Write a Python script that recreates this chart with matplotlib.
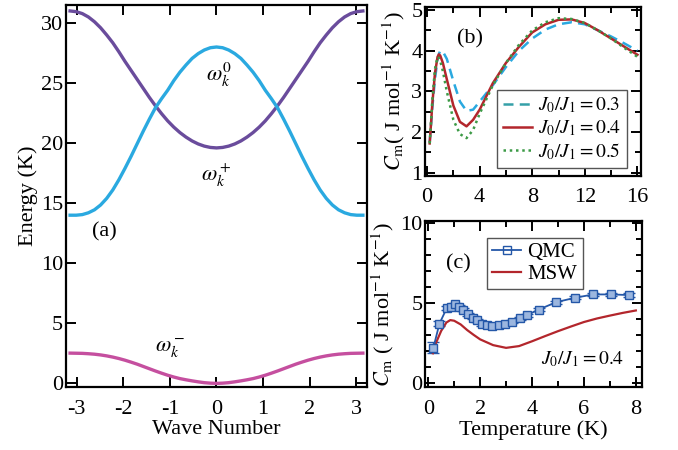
import numpy as np
import matplotlib.pyplot as plt
from matplotlib.ticker import MultipleLocator
from matplotlib.lines import Line2D

plt.rcParams['font.family'] = ['Liberation Serif', 'DejaVu Serif']
plt.rcParams['mathtext.fontset'] = 'stix'
plt.rcParams['axes.unicode_minus'] = False
plt.rcParams['font.size'] = 16

# ---- panel (a): dispersion, k = n*pi/24, n = 0..24 (symmetric about 0)
k_half = np.arange(25) * np.pi / 24
w0_half = [28.0, 27.94, 27.75, 27.45, 27.05, 26.5, 25.9, 25.2, 24.4, 23.7, 22.95, 22.0,
           21.0, 19.95, 18.9, 17.9, 16.95, 16.1, 15.4, 14.85, 14.45, 14.2, 14.05, 14.0, 14.0]
wp_half = [19.6, 19.64, 19.75, 19.93, 20.18, 20.5, 20.88, 21.33, 21.85, 22.45, 23.1, 23.8,
           24.55, 25.3, 26.05, 26.8, 27.6, 28.35, 29.0, 29.6, 30.1, 30.5, 30.78, 30.94, 31.0]
wm_half = [0.0, 0.02, 0.06, 0.13, 0.21, 0.3, 0.4, 0.53, 0.68, 0.85, 1.03, 1.22,
           1.41, 1.6, 1.77, 1.93, 2.07, 2.19, 2.29, 2.37, 2.43, 2.47, 2.5, 2.51, 2.52]

k = np.r_[-k_half[:0:-1], k_half]
w0 = np.r_[w0_half[:0:-1], w0_half]
wp = np.r_[wp_half[:0:-1], wp_half]
wm = np.r_[wm_half[:0:-1], wm_half]

# ---- panel (b): C_m vs T for three J0/J1
Tb = [0.2, 0.4, 0.6, 0.8, 0.9, 1.0, 1.2, 1.5, 2.0, 2.5, 3.0, 3.5, 4.0, 5.0, 6.0,
      7.0, 8.0, 9.0, 10.0, 11.0, 12.0, 13.0, 14.0, 15.0, 16.0]
c03 = [1.75, 2.6, 3.3, 3.8, 3.92, 4.0, 3.98, 3.8, 3.25, 2.75, 2.52, 2.55, 2.75, 3.15, 3.6,
       4.0, 4.3, 4.52, 4.65, 4.7, 4.65, 4.5, 4.35, 4.18, 4.0]
c04 = [1.72, 2.7, 3.45, 3.85, 3.91, 3.88, 3.7, 3.3, 2.65, 2.25, 2.14, 2.3, 2.55, 3.2, 3.7,
       4.1, 4.45, 4.65, 4.76, 4.77, 4.68, 4.5, 4.3, 4.1, 3.9]
c05 = [1.72, 2.8, 3.55, 3.85, 3.82, 3.75, 3.5, 3.0, 2.3, 1.95, 1.85, 2.05, 2.45, 3.15, 3.7,
       4.15, 4.5, 4.7, 4.8, 4.78, 4.68, 4.5, 4.3, 4.07, 3.85]

# ---- panel (c): QMC vs MSW at J0/J1 = 0.4
T_qmc = [0.2, 0.43, 0.71, 0.86, 1.03, 1.2, 1.35, 1.55, 1.72, 1.87, 2.06, 2.26, 2.45,
         2.71, 2.97, 3.23, 3.55, 3.81, 4.26, 4.94, 5.65, 6.36, 7.06, 7.75]
c_qmc = [2.2, 3.69, 4.65, 4.73, 4.9, 4.73, 4.58, 4.27, 4.06, 3.9, 3.65, 3.6, 3.58,
         3.6, 3.69, 3.81, 4.02, 4.23, 4.58, 5.04, 5.31, 5.52, 5.52, 5.48]
e_qmc = [0.35, 0.15, 0.12, 0.1, 0.1, 0.1, 0.1, 0.1, 0.1, 0.1, 0.1, 0.1, 0.1,
         0.1, 0.1, 0.1, 0.1, 0.1, 0.1, 0.1, 0.1, 0.1, 0.1, 0.1]
T_msw = [0.18, 0.3, 0.5, 0.7, 0.85, 1.0, 1.25, 1.5, 1.75, 2.0, 2.5, 3.0, 3.5, 4.0,
         4.5, 5.0, 5.5, 6.0, 6.5, 7.0, 7.5, 8.0]
c_msw = [1.85, 2.5, 3.25, 3.77, 3.92, 3.88, 3.65, 3.3, 3.0, 2.72, 2.36, 2.19, 2.3, 2.6,
         2.92, 3.23, 3.52, 3.8, 4.02, 4.2, 4.37, 4.52]

purple = '#6a4c9c'
cyan = '#2aa9e0'
magenta = '#c54f9f'
red = '#b3262c'
green = '#3c9a46'
blue = '#2457a8'


def style(ax, lw=1.6):
    for s in ax.spines.values():
        s.set_linewidth(lw)
    ax.tick_params(which='both', direction='in', top=True, right=True, width=1.4, labelsize=16)
    ax.tick_params(which='major', length=7)
    ax.tick_params(which='minor', length=4)
    ax.tick_params(axis='x', pad=9)
    ax.tick_params(axis='y', pad=2)


fig = plt.figure(figsize=(6.78, 4.5), dpi=100)
axa = fig.add_axes([0.0973, 0.14, 0.444, 0.849])
axb = fig.add_axes([0.627, 0.609, 0.318, 0.375])
axc = fig.add_axes([0.627, 0.14, 0.320, 0.369])

# (a)
axa.plot(k, wp, color=purple, lw=2.4)
axa.plot(k, w0, color=cyan, lw=2.4)
axa.plot(k, wm, color=magenta, lw=2.4)
axa.set_xlim(-3.23, 3.23)
axa.set_ylim(-0.3, 31.5)
axa.set_xticks(range(-3, 4))
axa.yaxis.set_major_locator(MultipleLocator(5))
axa.set_xlabel('Wave Number', fontsize=16, labelpad=1)
axa.set_ylabel('Energy (K)', fontsize=16, labelpad=2)
axa.text(0.05, 25.7, r'$\omega_k^0$', fontsize=16, ha='center', va='center')
axa.text(0.0, 17.3, r'$\omega_k^+$', fontsize=16, ha='center', va='center')
axa.text(-1.0, 2.9, r'$\omega_k^-$', fontsize=16, ha='center', va='center')
axa.text(-2.4, 12.6, '(a)', fontsize=16, ha='center', va='center')
style(axa)

# (b)
axb.plot(Tb, c03, color=cyan, lw=1.8, ls=(0, (4, 2.5)))
axb.plot(Tb, c04, color=red, lw=1.8)
axb.plot(Tb, c05, color=green, lw=1.8, ls=(0, (1, 1.5)))
axb.set_xlim(-0.15, 16.25)
axb.set_ylim(0.92, 5.07)
axb.xaxis.set_major_locator(MultipleLocator(4))
axb.xaxis.set_minor_locator(MultipleLocator(2))
axb.yaxis.set_major_locator(MultipleLocator(1))
axb.yaxis.set_minor_locator(MultipleLocator(0.5))
axb.set_ylabel(r'$C_{\rm m}$( J mol$^{-1}$ K$^{-1}$)', fontsize=16, labelpad=3)
axb.text(3.3, 4.3, '(b)', fontsize=16, ha='center', va='center')
handles = [Line2D([], [], color='#35a0a8', lw=1.8, ls=(0, (4, 2.5))),
           Line2D([], [], color=red, lw=1.8),
           Line2D([], [], color=green, lw=1.8, ls=(0, (1, 1.5)))]
leg = axb.legend(handles, [r'$J_0/J_1 = 0.3$', r'$J_0/J_1 = 0.4$', r'$J_0/J_1 = 0.5$'],
                 loc='lower right', bbox_to_anchor=(0.935, 0.05), fontsize=14,
                 frameon=True, fancybox=False, edgecolor='#555555', framealpha=1,
                 handlelength=1.5, handletextpad=0.3, borderpad=0.3, labelspacing=0.15,
                 borderaxespad=0)
leg.get_frame().set_linewidth(1.0)
style(axb)

# (c)
axc.errorbar(T_qmc, c_qmc, yerr=e_qmc, color=blue, lw=1.3, marker='s', ms=6,
             mfc='#9bb6df', mec=blue, mew=1.0, capsize=4, elinewidth=1.0, capthick=1.0)
axc.plot(T_msw, c_msw, color=red, lw=1.6)
axc.set_xlim(-0.12, 8.24)
axc.set_ylim(-0.25, 10.1)
axc.xaxis.set_major_locator(MultipleLocator(2))
axc.xaxis.set_minor_locator(MultipleLocator(1))
axc.yaxis.set_major_locator(MultipleLocator(5))
axc.yaxis.set_minor_locator(MultipleLocator(1))
axc.set_xlabel('Temperature (K)', fontsize=16, labelpad=1)
axc.set_ylabel(r'$C_{\rm m}$ ( J mol$^{-1}$ K$^{-1}$)', fontsize=16, labelpad=3)
axc.text(1.15, 7.4, '(c)', fontsize=16, ha='center', va='center')
axc.text(5.95, 1.5, r'$J_0/J_1 = 0.4$', fontsize=14, ha='center', va='center')
handles2 = [Line2D([], [], color=blue, lw=1.3, marker='s', ms=6, mfc='none', mec=blue, mew=1.0),
            Line2D([], [], color=red, lw=1.6)]
leg2 = axc.legend(handles2, ['QMC', 'MSW'], loc='upper left', bbox_to_anchor=(0.285, 0.9),
                  fontsize=15, frameon=True, fancybox=False, edgecolor='#555555',
                  framealpha=1, handlelength=1.4, handletextpad=0.3, borderpad=0.25,
                  labelspacing=0.1, borderaxespad=0)
leg2.get_frame().set_linewidth(1.0)
style(axc)

fig.savefig('out.png', dpi=100)
